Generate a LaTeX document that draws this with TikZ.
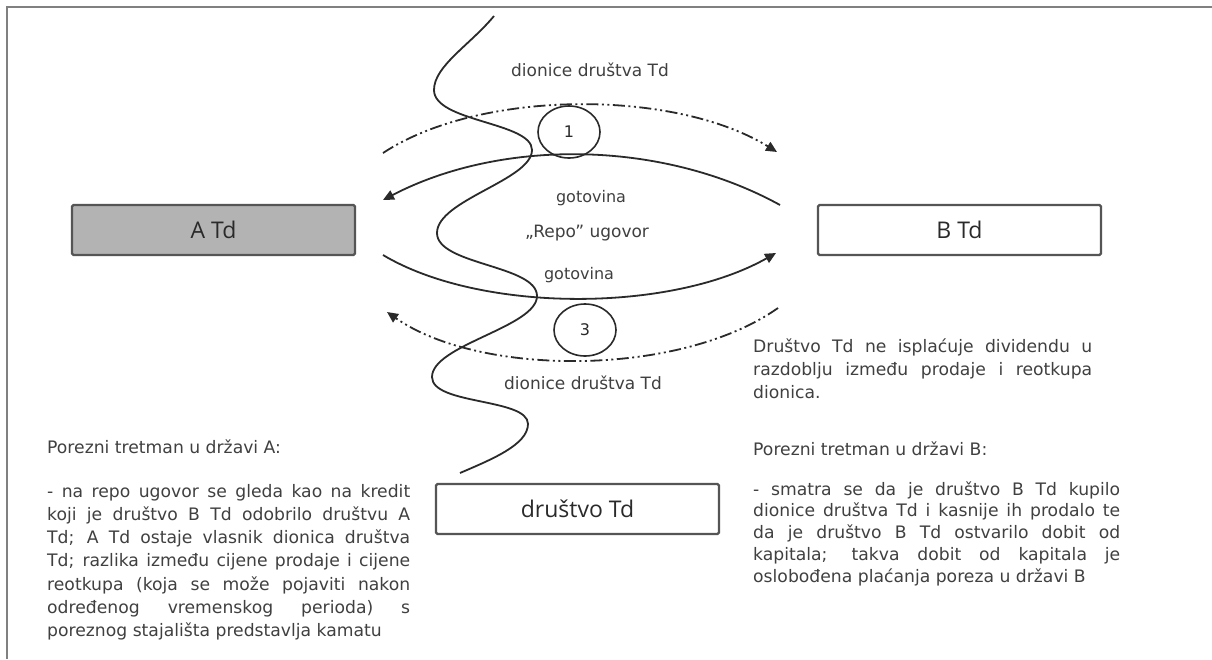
\documentclass[tikz,border=0pt]{standalone}
\usepackage{fontspec}
\setmainfont{DejaVu Sans}
\newfontfamily\boxfont{Open Sans}
\usetikzlibrary{shapes.geometric,arrows.meta}
\definecolor{txtcol}{HTML}{404040}
\definecolor{linecol}{HTML}{2A2A2A}
\definecolor{boxcol}{HTML}{555555}
\definecolor{afill}{HTML}{B3B3B3}
\definecolor{framecol}{HTML}{808080}
\newcommand\jline[1]{\makebox[\linewidth][s]{#1}\\}
\tikzset{
  entity/.style={draw=boxcol, line width=2.2pt, rounded corners=1.5pt,
    minimum width=283pt, minimum height=50pt, inner sep=0pt,
    font=\boxfont\fontsize{23}{26}\selectfont, text=linecol},
  lbl/.style={font=\fontsize{17}{20}\selectfont, text=txtcol, inner sep=0pt},
  para/.style={font=\fontsize{17.2}{23.3}\selectfont, text=txtcol, inner sep=0pt, anchor=base west},
  flow/.style={line width=1.8pt, draw=linecol, -{Triangle[length=11pt,width=10pt]}},
  ddflow/.style={flow, dash pattern=on 12pt off 3.5pt on 2pt off 3.5pt on 2pt off 3.5pt},
  wave/.style={line width=1.8pt, draw=linecol},
  numc/.style={ellipse, draw=linecol, line width=1.6pt, minimum width=62pt,
    minimum height=52pt, inner sep=0pt, font=\fontsize{16}{18}\selectfont, text=linecol}
}
\begin{document}
\begin{tikzpicture}[x=1pt,y=-1pt]
\useasboundingbox (0,0) rectangle (1212,659);
\fill[white] (0,0) rectangle (1212,659);
\draw[framecol, line width=2pt] (7,659) -- (7,7) -- (1212,7);

% boxes
\node[entity, fill=afill] (A) at (213.5,230) {A Td};
\node[entity, fill=white] (B) at (959.5,230) {B Td};
\node[entity, fill=white] (T) at (577.5,509) {društvo Td};

% wave line
\draw[wave] (494,16) .. controls (470,45) and (434,66) .. (434,90)
  .. controls (434,122) and (532,122) .. (532,150)
  .. controls (532,180) and (437,200) .. (437,233)
  .. controls (437,265) and (537,265) .. (537,296)
  .. controls (537,327) and (432,345) .. (432,377)
  .. controls (432,405) and (528,398) .. (528,424)
  .. controls (528,445) and (490,460) .. (460,473);

% flow end points
\coordinate (d1s) at (383,153);
\coordinate (d1e) at (777,152);
\coordinate (g1s) at (780,205);
\coordinate (g1e) at (383,200);
\coordinate (g2s) at (383,255);
\coordinate (g2e) at (776,253);
\coordinate (d2s) at (778,308);
\coordinate (d2e) at (387,312);

\draw[ddflow] (d1s) .. controls (480,89) and (675,89) .. (d1e);
\draw[flow] (g1s) .. controls (660,139) and (500,139) .. (g1e);
\draw[flow] (g2s) .. controls (480,313) and (670,313) .. (g2e);
\draw[ddflow] (d2s) .. controls (680,377) and (480,377) .. (d2e);

% numbered circles
\node[numc] (c1) at (569,132) {1};
\node[numc] (c3) at (585,330) {3};

% labels
\node[lbl] (l1) at (590,70) {dionice društva Td};
\node[lbl, font=\fontsize{16}{20}\selectfont] (l2) at (591,198) {gotovina};
\node[lbl] (l3) at (587,233) {„Repo” ugovor};
\node[lbl, font=\fontsize{16}{20}\selectfont] (l4) at (579,275) {gotovina};
\node[lbl] (l5) at (583,383) {dionice društva Td};

% text blocks
\node[para] (ha) at (47,453) {Porezni tretman u državi A:};
\node[para] (pa) at (47,497) {\parbox[t]{363pt}{\fontsize{17.2}{23.3}\selectfont
\jline{- na repo ugovor se gleda kao na kredit}
\jline{koji je društvo B Td odobrilo društvu A}
\jline{Td; A Td ostaje vlasnik dionica društva}
\jline{Td; razlika između cijene prodaje i cijene}
\jline{reotkupa (koja se može pojaviti nakon}
\jline{određenog vremenskog perioda) s}
poreznog stajališta predstavlja kamatu}};

\node[para] (rb) at (753,352) {\parbox[t]{339pt}{\fontsize{17.2}{23}\selectfont
\jline{Društvo Td ne isplaćuje dividendu u}
\jline{razdoblju između prodaje i reotkupa}
dionica.}};

\node[para] (hb) at (753,455) {Porezni tretman u državi B:};
\node[para] (pb) at (753,495) {\parbox[t]{367pt}{\fontsize{17.2}{21.8}\selectfont
\jline{- smatra se da je društvo B Td kupilo}
\jline{dionice društva Td i kasnije ih prodalo te}
\jline{da je društvo B Td ostvarilo dobit od}
\jline{kapitala; takva dobit od kapitala je}
oslobođena plaćanja poreza u državi B}};
\end{tikzpicture}
\end{document}
